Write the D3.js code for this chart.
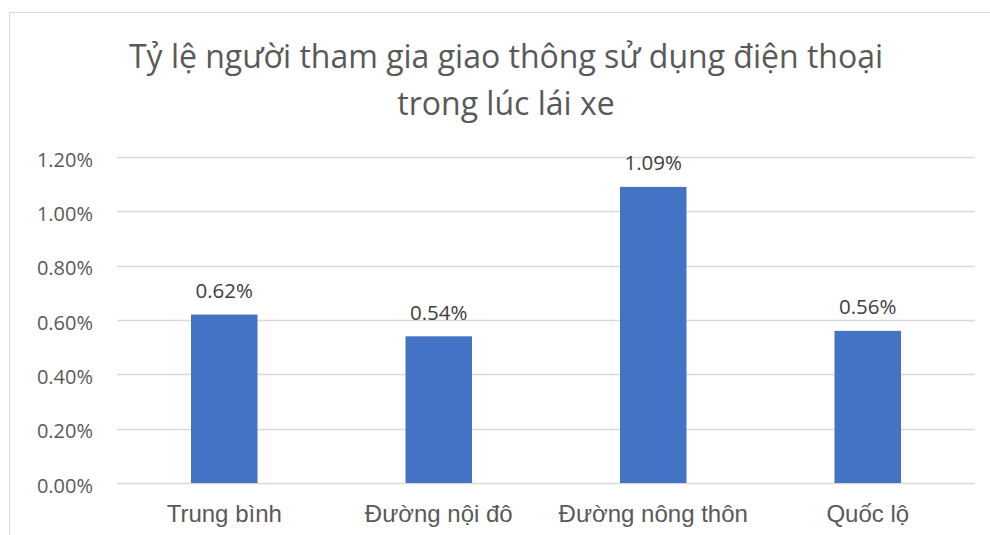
<!DOCTYPE html>
<html>
<head>
<meta charset="utf-8">
<script src="https://cdn.jsdelivr.net/npm/d3@7"></script>
<style>
  body { margin: 0; background: #fff; }
  svg { display: block; }
</style>
</head>
<body>
<div id="chart"></div>
<script>
// Chart data
var categories = ["Trung bình", "Đường nội đô", "Đường nông thôn", "Quốc lộ"];
var values = [0.0062, 0.0054, 0.0109, 0.0056];
var valueLabels = ["0.62%", "0.54%", "1.09%", "0.56%"];
var yTicks = [0, 0.002, 0.004, 0.006, 0.008, 0.010, 0.012];
var titleLines = ["Tỷ lệ người tham gia giao thông sử dụng điện thoại", "trong lúc lái xe"];

var svgWidth = 990;
var svgHeight = 535;

var margin = { top: 157, right: 15, bottom: 52, left: 117 };
var width = 975 - margin.left;
var height = 483 - margin.top;

var svg = d3.select("#chart")
  .append("svg")
  .attr("width", svgWidth)
  .attr("height", svgHeight);

// chart border (runs off the right and bottom edge)
svg.append("rect")
  .attr("x", 9.5)
  .attr("y", 12.5)
  .attr("width", 1000)
  .attr("height", 600)
  .attr("fill", "#fff")
  .attr("stroke", "#d9d9d9")
  .attr("stroke-width", 1);

// title
svg.append("g")
  .selectAll("text")
  .data(titleLines)
  .enter()
  .append("text")
  .attr("x", 506)
  .attr("y", (d, i) => 68 + i * 47)
  .attr("text-anchor", "middle")
  .attr("font-family", "'Open Sans', sans-serif")
  .attr("font-size", "32px")
  .attr("fill", "#595959")
  .text(d => d);

var chartGroup = svg.append("g")
  .attr("transform", `translate(${margin.left}, ${margin.top})`);

var xScale = d3.scaleBand()
  .domain(categories)
  .range([0, width])
  .paddingInner(0.69)
  .paddingOuter(0.345);

var yScale = d3.scaleLinear()
  .domain([0, 0.012])
  .range([height, 0]);

// gridlines
chartGroup.append("g")
  .selectAll("line")
  .data(yTicks)
  .enter()
  .append("line")
  .attr("x1", 0)
  .attr("x2", width)
  .attr("y1", d => Math.round(yScale(d)) + 0.5)
  .attr("y2", d => Math.round(yScale(d)) + 0.5)
  .attr("stroke", "#d9d9d9")
  .attr("stroke-width", 1.3);

// y axis labels
var leftAxis = d3.axisLeft(yScale)
  .tickValues(yTicks)
  .tickFormat(d3.format(".2%"))
  .tickSize(0)
  .tickPadding(24);

var yAxis = chartGroup.append("g").call(leftAxis);
yAxis.select(".domain").remove();
yAxis.selectAll("text")
  .attr("dy", "9px")
  .attr("font-family", "'Open Sans', sans-serif")
  .attr("font-size", "20px")
  .attr("fill", "#595959");

// bars
chartGroup.selectAll("rect.bar")
  .data(values)
  .enter()
  .append("rect")
  .attr("class", "bar")
  .attr("x", (d, i) => xScale(categories[i]))
  .attr("y", d => yScale(d))
  .attr("width", xScale.bandwidth())
  .attr("height", d => height - yScale(d))
  .attr("fill", "#4472c4");

// value labels
chartGroup.selectAll("text.val")
  .data(values)
  .enter()
  .append("text")
  .attr("class", "val")
  .attr("x", (d, i) => xScale(categories[i]) + xScale.bandwidth() / 2)
  .attr("y", d => yScale(d) - 16.5)
  .attr("text-anchor", "middle")
  .attr("font-family", "'Open Sans', sans-serif")
  .attr("font-size", "20.5px")
  .attr("fill", "#404040")
  .text((d, i) => valueLabels[i]);

// x axis labels
var bottomAxis = d3.axisBottom(xScale)
  .tickSize(0)
  .tickPadding(0);

var xAxis = chartGroup.append("g")
  .attr("transform", `translate(0, ${height})`)
  .call(bottomAxis);
xAxis.select(".domain").remove();
xAxis.selectAll("text")
  .attr("y", 39)
  .attr("dy", null)
  .attr("font-family", "'Liberation Sans', Arial, sans-serif")
  .attr("font-size", "24px")
  .attr("fill", "#595959");
</script>
</body>
</html>
